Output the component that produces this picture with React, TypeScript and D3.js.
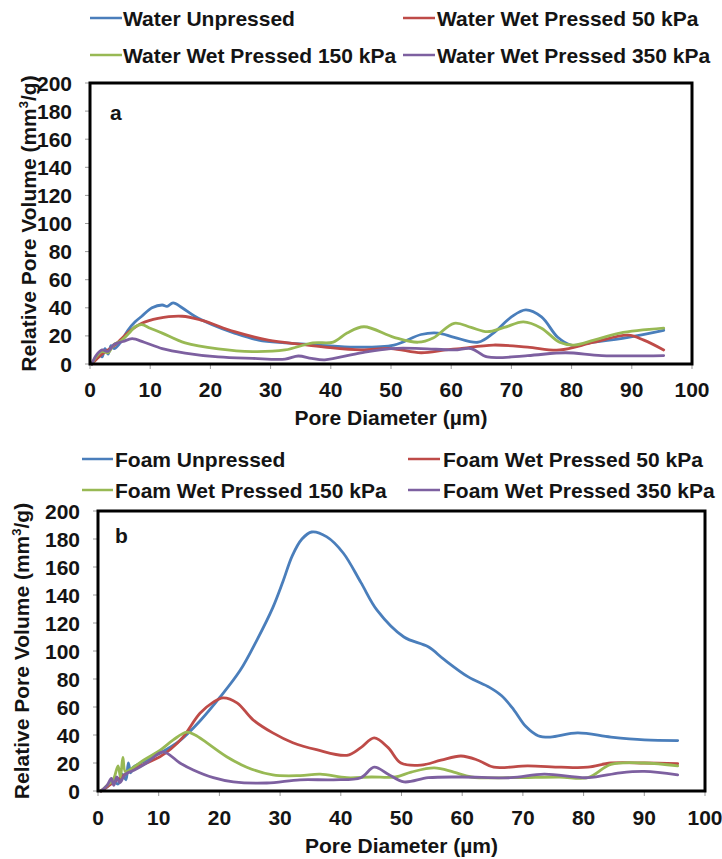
import React from "react";
import * as d3 from "d3";

type Pt = [number, number];

// Panel (a): water-formed samples
const waterUnpressed: Pt[] = [
  [0.3, 0], [1, 4], [1.5, 8], [2, 5], [2.5, 11], [3, 7], [3.5, 13], [4, 11], [5, 15],
  [6.3, 24], [7.5, 30], [8.6, 34], [10.3, 40], [12, 42], [12.8, 41], [13.8, 43.5],
  [15.3, 40], [17.4, 34], [20.3, 28], [24, 22], [28, 17], [32.4, 15], [38, 13.5],
  [44, 12], [50.5, 13.5], [55, 21], [57.8, 22], [60.5, 19], [64.5, 15.5], [67, 22],
  [70, 33.5], [72.4, 38.5], [75, 33.5], [77.7, 19], [79.9, 13.5], [83.7, 15.5],
  [89.4, 19], [95.3, 24],
];
const waterWet50: Pt[] = [
  [0.3, 0], [1, 3], [2, 7], [3, 10], [4, 13], [5, 17], [6.5, 23], [8.6, 29],
  [11.3, 32.5], [15.3, 34], [18.6, 31], [24, 23], [29.6, 17], [35, 14], [39, 12],
  [45, 10], [50, 11], [55, 8], [59, 10], [61.5, 11], [67, 13.5], [72.7, 12], [78, 10],
  [83.7, 15.5], [89.4, 20.5], [92, 17], [95.3, 10],
];
const waterWet150: Pt[] = [
  [0.3, 0], [1, 5], [2, 9], [3, 8], [4, 14], [5, 16], [6.5, 22], [7.5, 26.5], [8.6, 28],
  [10, 25.5], [12, 22], [15.8, 15], [21.3, 10.7], [27, 8.8], [32.4, 10], [37, 15],
  [40.4, 15.6], [42.7, 22], [45.5, 26.5], [50.5, 19], [54.5, 15.5], [57, 18.5],
  [60.5, 29], [63.3, 26], [66, 23], [68.8, 26], [72, 30], [75, 25.5], [78, 15.5],
  [80.4, 13.5], [83.7, 17], [88, 22], [95.3, 25.5],
];
const waterWet350: Pt[] = [
  [0.3, 0], [1, 6], [2, 10], [3, 9], [4, 14], [5.5, 16], [7, 18], [9, 15.5], [12, 11],
  [15.8, 7.8], [21.3, 5], [27, 4], [32.4, 3.5], [34.6, 5.7], [36.8, 4], [39, 3],
  [45, 8], [50, 11], [55, 11], [60.5, 10], [63.3, 11], [66, 5], [72.7, 6], [79, 8],
  [85, 6], [95.3, 6],
];

// Panel (b): foam-formed samples
const foamUnpressed: Pt[] = [
  [0.5, 0], [1.5, 3], [2.5, 7], [3.3, 5], [4, 12], [4.6, 8], [5, 20], [5.4, 13],
  [5.8, 17], [7.5, 21], [10.2, 27], [13.5, 36], [16.8, 50], [20.1, 67], [23.4, 86],
  [26.2, 108], [28.8, 131], [30.5, 150], [32, 168], [33.6, 180], [35.2, 185],
  [37.7, 181.5], [40.4, 170], [43.3, 149], [46, 129], [50.4, 110], [54.4, 103],
  [57, 94], [61, 81.5], [64.5, 74], [66.5, 68], [68.5, 58], [70.5, 46], [72.5, 39.5],
  [74.5, 38.5], [79, 41.5], [84.5, 38.5], [90, 36.5], [95.5, 36],
];
const foamWet50: Pt[] = [
  [0.5, 0], [1.5, 3], [2.5, 6], [3.5, 9], [4.5, 12], [5.5, 15], [7.5, 19], [10.2, 24.5],
  [12, 30], [14, 38.5], [16.8, 55.5], [19, 63.5], [20.6, 66.5], [22.9, 63], [25.5, 51],
  [28.8, 41.5], [32.1, 34.5], [36, 29.5], [41, 25.5], [43.3, 31], [45.5, 38],
  [47.8, 31], [49.9, 20], [53.2, 18.5], [56.5, 22], [59.8, 25], [62.6, 22], [65.2, 17],
  [70.8, 18], [76.3, 17], [80.7, 17], [84.5, 20], [90, 20], [95.5, 19.5],
];
const foamWet150: Pt[] = [
  [0.5, 0], [1.5, 4], [2.5, 8], [3.3, 18], [3.7, 10], [4.1, 24], [4.5, 14], [5.5, 16],
  [7.5, 22], [10.2, 29], [12.4, 36.5], [14.6, 42], [16, 40], [17.9, 34.5], [21.2, 24.5],
  [24.5, 17], [28.8, 11.5], [33.3, 11], [36.6, 12], [41, 9.5], [45, 10], [49, 10],
  [51.6, 13.5], [55.4, 16.5], [58.6, 13.5], [61.5, 10], [68, 9.5], [76, 10],
  [80.7, 9.5], [84.5, 19], [90, 20], [95.5, 18],
];
const foamWet350: Pt[] = [
  [0.5, 0], [1.5, 4], [2.2, 9], [2.6, 4], [3.1, 10], [3.6, 6], [4.5, 12], [6, 15],
  [8, 20], [10.7, 28], [13.5, 20], [15.7, 15], [19, 9.5], [22.3, 6.5], [27.8, 5.7],
  [33.3, 8], [38.8, 8], [43.3, 9.5], [45.5, 17], [47.8, 12], [50.4, 6.5], [54.4, 9.5],
  [60, 10], [68, 9.5], [73.5, 12], [80.7, 9.5], [86, 13], [90, 14], [95.5, 11.5],
];

const waterNames = [
  "Water Unpressed",
  "Water Wet Pressed 50 kPa",
  "Water Wet Pressed 150 kPa",
  "Water Wet Pressed 350 kPa",
];
const foamNames = [
  "Foam Unpressed",
  "Foam Wet Pressed 50 kPa",
  "Foam Wet Pressed 150 kPa",
  "Foam Wet Pressed 350 kPa",
];
const seriesColors = ["#4A7EBB", "#BE4B48", "#98B954", "#7D60A0"];

const xTicks = d3.range(0, 101, 10);
const yTicks = d3.range(0, 201, 20);

const FONT = "'Liberation Sans', Arial, Helvetica, sans-serif";
const FS = 21;
const INK = "#141414";

type Box = { left: number; right: number; top: number; bottom: number };
type LegendSpec = {
  rows: number[]; // row centre y
  cols: { lineX0: number; lineX1: number; textX: number }[];
};

function Panel(props: {
  box: Box;
  series: Pt[][];
  names: string[];
  letter: string;
  letterPos: [number, number];
  yLabelRight: number;
  yTitleX: number;
  xLabelBaseline: number;
  xTitleBaseline: number;
  legend: LegendSpec;
}) {
  const { box, series, names, letter, letterPos, legend } = props;
  const x = d3.scaleLinear().domain([0, 100]).range([box.left, box.right]);
  const y = d3.scaleLinear().domain([0, 200]).range([box.bottom, box.top]);
  const line = d3
    .line<Pt>()
    .x((d) => x(d[0]))
    .y((d) => y(d[1]))
    .curve(d3.curveCatmullRom.alpha(0.5));
  const midY = (box.top + box.bottom) / 2;
  const midX = (box.left + box.right) / 2;

  return (
    <g fontFamily={FONT} fontWeight="bold" fontSize={FS} fill={INK}>
      {/* legend, two columns by two rows */}
      {names.map((name, i) => {
        const col = legend.cols[i % 2];
        const ry = legend.rows[Math.floor(i / 2)];
        return (
          <g key={name}>
            <line
              x1={col.lineX0}
              x2={col.lineX1}
              y1={ry}
              y2={ry}
              stroke={seriesColors[i]}
              strokeWidth={2.5}
            />
            <text x={col.textX} y={ry + 7.5}>
              {name}
            </text>
          </g>
        );
      })}

      {/* tick marks */}
      {xTicks.map((t) => (
        <line
          key={"xt" + t}
          x1={x(t)}
          x2={x(t)}
          y1={box.bottom}
          y2={box.bottom + 5}
          stroke="#9a9a9a"
          strokeWidth={1}
        />
      ))}
      {yTicks.map((t) => (
        <line
          key={"yt" + t}
          x1={box.left - 5}
          x2={box.left}
          y1={y(t)}
          y2={y(t)}
          stroke="#9a9a9a"
          strokeWidth={1}
        />
      ))}

      {/* data */}
      <g fill="none" strokeWidth={2.8} strokeLinejoin="round" strokeLinecap="round">
        {series.map((s, i) => (
          <path key={names[i]} d={line(s) ?? ""} stroke={seriesColors[i]} />
        ))}
      </g>

      {/* plot frame */}
      <rect
        x={box.left}
        y={box.top}
        width={box.right - box.left}
        height={box.bottom - box.top}
        fill="none"
        stroke="#000"
        strokeWidth={3}
      />

      {/* tick labels */}
      {yTicks.map((t) => (
        <text key={"yl" + t} x={props.yLabelRight} y={y(t) + 7.5} textAnchor="end">
          {t}
        </text>
      ))}
      {xTicks.map((t) => (
        <text key={"xl" + t} x={x(t)} y={props.xLabelBaseline} textAnchor="middle">
          {t}
        </text>
      ))}

      {/* axis titles */}
      <text x={midX} y={props.xTitleBaseline} textAnchor="middle">
        Pore Diameter (µm)
      </text>
      <text
        transform={`translate(${props.yTitleX},${midY}) rotate(-90)`}
        textAnchor="middle"
      >
        Relative Pore Volume (mm
        <tspan fontSize={13} dy={-8}>
          3
        </tspan>
        <tspan dy={8}>/g)</tspan>
      </text>

      {/* panel letter */}
      <text x={letterPos[0]} y={letterPos[1]}>
        {letter}
      </text>
    </g>
  );
}

export default function App() {
  return (
    <svg
      width={722}
      height={859}
      viewBox="0 0 722 859"
      style={{ position: "absolute", left: 0, top: 0, background: "#fff" }}
    >
      <rect width={722} height={859} fill="#fff" />
      <Panel
        box={{ left: 90, right: 692, top: 83, bottom: 364 }}
        series={[waterUnpressed, waterWet50, waterWet150, waterWet350]}
        names={waterNames}
        letter="a"
        letterPos={[110, 120]}
        yLabelRight={72}
        yTitleX={36}
        xLabelBaseline={397}
        xTitleBaseline={425}
        legend={{
          rows: [18, 55],
          cols: [
            { lineX0: 90, lineX1: 122, textX: 123 },
            { lineX0: 403, lineX1: 435, textX: 437 },
          ],
        }}
      />
      <Panel
        box={{ left: 98, right: 705, top: 511, bottom: 791 }}
        series={[foamUnpressed, foamWet50, foamWet150, foamWet350]}
        names={foamNames}
        letter="b"
        letterPos={[115, 543]}
        yLabelRight={80}
        yTitleX={29}
        xLabelBaseline={825}
        xTitleBaseline={853}
        legend={{
          rows: [459, 490],
          cols: [
            { lineX0: 82, lineX1: 113, textX: 115 },
            { lineX0: 408, lineX1: 440, textX: 443 },
          ],
        }}
      />
    </svg>
  );
}
